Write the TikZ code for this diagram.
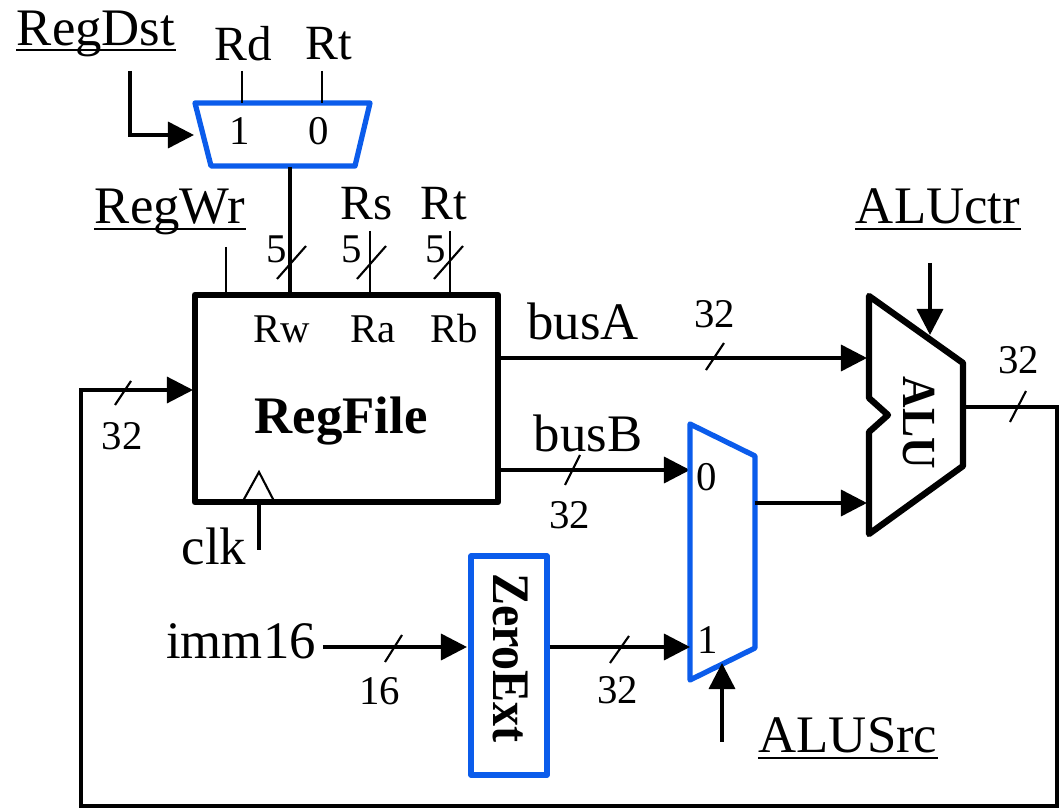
\documentclass[tikz,border=0pt]{standalone}
\usepackage{fontspec}
\setmainfont{Liberation Serif}
\usepackage{xcolor}
\usetikzlibrary{positioning, calc, arrows.meta}
\definecolor{muxblue}{RGB}{11,92,235}

\begin{document}
\begin{tikzpicture}[x=0.01cm, y=-0.01cm,
    wire/.style={line width=1pt},
    sig/.style={line width=1pt, -{Triangle[length=7.4pt,width=7.4pt]}},
    thinwire/.style={line width=0.6pt},
    tick/.style={line width=0.6pt},
    ulrule/.style={line width=0.85pt},
    bluebox/.style={draw=muxblue, line width=1.5pt, line join=round},
    blackbox/.style={draw=black, line width=1.8pt, line join=round},
    big/.style={inner sep=0pt, font=\fontsize{15}{15}\selectfont},
    ctl/.style={inner sep=0pt, anchor=base, font=\fontsize{15}{15}\selectfont},
    mid/.style={inner sep=0pt, font=\fontsize{14}{14}\selectfont},
    small/.style={inner sep=0pt, font=\fontsize{11.6}{12}\selectfont}]
        \useasboundingbox (0,0) rectangle (1059,812);

        % Register destination mux
        \draw[bluebox] (195,103) coordinate (dstA) -- (370,103) coordinate (dstB) -- (355,166) coordinate (dstC) -- (211,166) coordinate (dstD) -- cycle;
        \node[small] (dstone) at (240,131) {1};
        \node[small] (dstzero) at (319,131) {0};
        \node[ctl] (regdst) at (96,45) {RegDst};
        \node[mid] (rd) at (243,44) {Rd};
        \node[mid] (rt) at (329,44) {Rt};
        \coordinate (rdend) at (242,71);
        \coordinate (rtend) at (322,71);
        \coordinate (dstctl) at (130,71);
        \coordinate (dstin) at (194,135);
        \draw[thinwire] (rdend) -- (rdend |- dstA);
        \draw[thinwire] (rtend) -- (rtend |- dstA);
        \draw[sig] (dstctl) |- (dstin);

        % Register file
        \node[blackbox, minimum width=3.03cm, minimum height=2.07cm, inner sep=0pt] (regfile) at (346.5,398.5) {};
        \node[inner sep=0pt, font=\fontsize{15}{15}\selectfont\bfseries] (regname) at (341,421) {RegFile};
        \node[small] (rw) at (282,329) {Rw};
        \node[small] (ra) at (373,329) {Ra};
        \node[small] (rb) at (454,329) {Rb};
        \node[ctl] (regwr) at (170,224) {RegWr};
        \node[mid] (rs) at (367,204) {Rs};
        \node[mid] (rtb) at (444,204) {Rt};
        \node[small] (fivew) at (277,249) {5};
        \node[small] (fivea) at (352,249) {5};
        \node[small] (fiveb) at (436,249) {5};
        \coordinate (wrend) at (226,247);
        \coordinate (rsend) at (370,231);
        \coordinate (rbend) at (450,231);
        \coordinate (dstout) at (290,167);
        \draw[wire, line width=0.85pt] (wrend) -- (wrend |- regfile.north);
        \draw[wire] (dstout) -- (dstout |- regfile.north);
        \draw[wire, line width=0.85pt] (rsend) -- (rsend |- regfile.north);
        \draw[wire, line width=0.85pt] (rbend) -- (rbend |- regfile.north);
        \draw[tick] (277,279) -- (306,246);
        \draw[tick] (357,279) -- (386,246);
        \draw[tick] (434,279) -- (463,246);

        % Clock input
        \coordinate (clkend) at (259,550);
        \draw[thinwire] (243,501) -- (259,472) coordinate (clktop) -- (274,501);
        \draw[wire] (clkend) -- (clkend |- regfile.south);
        \node[big] (clk) at (214,546) {clk};

        % ALU
        \draw[blackbox] (869,296) coordinate (aluA) -- (963,363) coordinate (aluB) -- (963,466) coordinate (aluC) -- (869,534) coordinate (aluD) -- (869,432) -- (888,415) -- (869,398) -- cycle;
        \node[inner sep=0pt, rotate=-90, xscale=0.92, font=\fontsize{13.5}{14}\selectfont\bfseries] (aluname) at (919,423) {ALU};
        \node[ctl] (aluctr) at (938,224) {ALUctr};
        \coordinate (ctrend) at (930,263);
        \coordinate (ctrin) at (930,335);
        \draw[sig] (ctrend) -- (ctrin);

        % Bus A and bus B
        \coordinate (outA) at (regfile.east |- 0,358);
        \coordinate (inA) at (867,358);
        \coordinate (outB) at (regfile.east |- 0,470);
        \coordinate (muxzero) at (690,470);
        \draw[sig] (outA) -- (inA);
        \draw[sig] (outB) -- (muxzero);
        \draw[tick] (706,370) -- (724,343);
        \draw[tick] (565,485) -- (580,455);
        \node[big] (busa) at (583,321) {busA};
        \node[big] (busb) at (588,433) {busB};
        \node[small] (thirtytwoa) at (715,314) {32};
        \node[small] (thirtytwob) at (570,515) {32};

        % ALU source mux
        \draw[bluebox] (690,424) coordinate (srcA) -- (755,456) coordinate (srcB) -- (755,648) coordinate (srcC) -- (690,680) coordinate (srcD) -- cycle;
        \node[small] (srczero) at (707,477) {0};
        \node[small] (srcone) at (708,640) {1};
        \coordinate (srcout) at (755,503);
        \coordinate (inB) at (867,503);
        \draw[sig] (srcout) -- (inB);
        \node[ctl] (alusrc) at (848,753) {ALUSrc};
        \coordinate (srcend) at (722,742);
        \coordinate (srcin) at (722,663);
        \draw[sig] (srcend) -- (srcin);

        % Immediate and extender
        \node[bluebox, minimum width=0.76cm, minimum height=2.19cm, inner sep=0pt] (zeroext) at (509,665.5) {};
        \node[inner sep=0pt, rotate=-90, xscale=0.91, font=\fontsize{15}{15}\selectfont\bfseries] (extname) at (511,658) {ZeroExt};
        \node[big] (imm) at (241,641) {imm16};
        \coordinate (immout) at (323,647);
        \coordinate (extin) at (467,647);
        \coordinate (muxone) at (690,647);
        \draw[sig] (immout) -- (extin);
        \draw[sig] (zeroext.east |- muxone) -- (muxone);
        \draw[tick] (385,662) -- (402,635);
        \draw[tick] (610,663) -- (629,636);
        \node[small] (sixteen) at (380,691) {16};
        \node[small] (thirtytwoc) at (618,690) {32};

        % Result back to the register file
        \coordinate (aluout) at (963,407);
        \coordinate (corner) at (1057,806);
        \coordinate (loopleft) at (81,806);
        \coordinate (rfin) at (193,390);
        \draw[sig, line width=0.9pt] (aluout) -| (corner) -- (loopleft) |- (rfin);
        \draw[tick] (1010,422) -- (1026,391);
        \draw[tick] (115,405) -- (131,381);
        \node[small] (thirtytwod) at (1019,360) {32};
        \node[small] (thirtytwoe) at (122,436) {32};

        % Rules under the control names
        \foreach \ctlname in {regdst,regwr,aluctr,alusrc}
          \draw[ulrule] ($(\ctlname.base west)+(0,5)$) -- ($(\ctlname.base east)+(0,5)$);
\end{tikzpicture}
\end{document}
